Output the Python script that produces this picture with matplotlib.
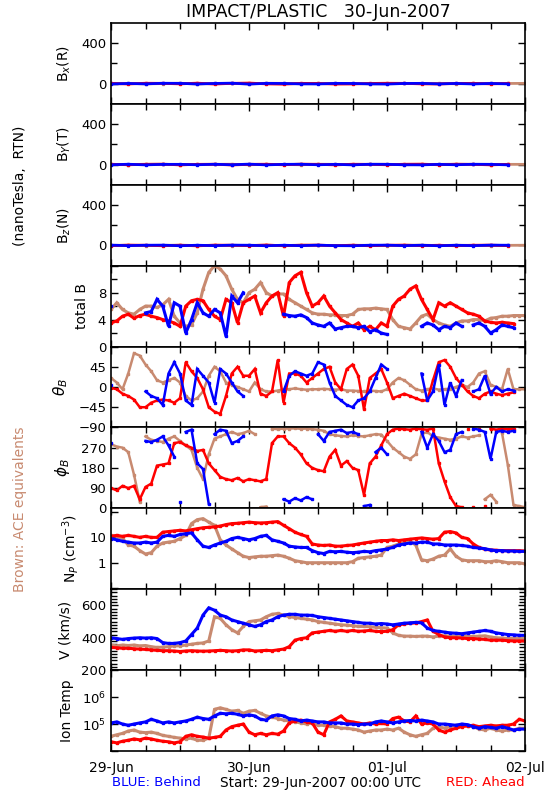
import numpy as np
import matplotlib
matplotlib.use("Agg")
import matplotlib.pyplot as plt
from matplotlib.ticker import FixedLocator, FixedFormatter, MultipleLocator, LogLocator, NullFormatter

nan = np.nan
plt.rcParams['font.family'] = ['DejaVu Sans']

# ---------------- data (hours since 29-Jun-2007 00:00 UTC) ----------------
hours = np.arange(0, 73)          # hourly samples
hours3 = np.arange(0, 73, 3)      # 3-hourly samples for B components

# B components (nT)
bx_red   = [2, -3, 4, 3, -2, 5, -4, 3, 6, -2, -5, 3, 2, -4, -3, 2, 4, 3, -2, -3, 2, 3, -2, 2, nan]
bx_blue  = [-3, 2, -2, 4, 3, -3, 2, 5, -4, 3, 2, -2, -3, 3, 2, -2, -4, 2, 3, -2, 2, -3, 2, -2, nan]
bx_brown = [3, 2, -2, 1, 4, -3, 3, 2, -2, 4, 3, -1, 2, 3, 2, -2, 1, 3, 2, 2, -1, 2, 3, 2, 3]
by_red   = [3, -2, 2, 4, -3, 2, 3, -4, 2, 3, -2, 4, 2, -3, 3, 2, -2, 3, 4, -2, 3, 2, -3, 2, nan]
by_blue  = [-2, 3, -3, 2, 2, -2, 3, -2, 4, -3, 2, 3, -2, 2, -3, 3, 2, -2, -3, 2, -2, 3, 2, -3, nan]
by_brown = [2, -1, 3, 2, -2, 1, 2, 3, -2, 2, 1, -2, 3, 2, -1, 2, 3, -2, 1, 2, 3, 2, -1, 2, 2]
bz_red   = [-2, 3, 2, -3, 2, -4, 3, 2, -2, 4, -3, 2, 3, -2, 2, -3, 2, 3, -2, 2, -3, 2, 3, -2, nan]
bz_blue  = [3, -2, 2, 3, -3, 2, -2, 3, 2, -3, 2, -2, 3, -2, -3, 2, 3, -2, 2, -3, 2, -2, 3, 2, nan]
bz_brown = [1, 2, -2, 1, 3, -1, 2, -2, 1, 2, -1, 3, 1, -2, 2, 1, -1, 2, 3, -1, 2, 1, -2, 1, 2]

# |B| (nT)
btot_red = [3.5, 3.8, 4.5, 4.8, 4.2, 4.6, 4.8, 4.5, 4.3, 4.0, 3.8, 3.5,
            3.0, 6.0, 6.8, 7.0, 6.8, 5.5, 4.5, 4.0, 7.0, 6.5, 3.5, 6.5,
            7.0, 7.5, 5.0, 6.5, 7.5, 8.0, 4.5, 9.5, 10.5, 11.0, 8.0, 6.0,
            6.5, 7.5, 6.0, 5.0, 4.0, 3.5, 3.0, 3.5, 2.5, 3.0, 2.5, 3.5,
            3.0, 6.0, 7.0, 7.5, 8.5, 9.0, 7.0, 5.5, 4.0, 6.5, 6.0, 6.5,
            6.0, 5.5, 5.0, 4.8, 4.5, 3.8, 3.6, 3.5, 3.6, 3.5, 3.4, nan,
            nan]
btot_blue = [6.0, nan, nan, nan, nan, nan, 5.0, 5.2, 7.0, 6.0, 3.0, 6.5,
             6.0, 2.0, 4.0, 6.5, 5.0, 4.5, 5.5, 5.0, 1.5, 7.5, 6.5, 8.0,
             nan, nan, nan, nan, nan, nan, 4.8, 4.6, 4.5, 4.7, 4.3, 3.5,
             3.2, 3.0, 3.5, 2.6, 2.8, 3.0, 3.0, 2.8, 3.0, 2.2, 2.5, 2.0,
             1.8, nan, nan, nan, nan, nan, 3.0, 3.5, 3.2, 2.5, 3.0, 2.8,
             3.5, 3.0, nan, 3.2, 3.5, 3.0, 2.0, 2.5, 3.2, 3.0, 2.8, nan,
             nan]
btot_brown = [5.5, 6.5, 5.5, 5.0, 4.8, 5.5, 6.0, 6.0, 5.8, 6.2, 7.0, 4.5,
              3.5, 3.0, 3.2, 5.0, 8.5, 11.0, 12.0, 11.5, 10.5, 8.5, 7.0, 6.5,
              8.0, 8.5, 9.5, 8.0, 7.5, 7.8, 7.8, 7.0, 6.5, 6.0, 5.5, 5.0,
              4.8, 4.8, 4.7, 4.7, 4.6, 4.6, 4.8, 5.5, 5.6, 5.6, 5.7, 5.6,
              5.5, 4.0, 3.0, 2.8, 2.6, 3.5, 4.5, 4.8, 4.0, 3.5, 3.2, 3.0,
              3.5, 3.8, 3.8, 4.0, 4.0, 3.8, 4.2, 4.3, 4.5, 4.5, 4.6, 4.6,
              4.6]

# theta_B (deg)
theta_red = [-2, -5, -15, -20, -28, -45, -45, -35, -30, -28, -30, -35,
             -25, 55, 35, 20, -5, -45, -55, -60, -20, 30, 45, 25,
             25, 40, -15, -20, -10, 60, -35, 30, 30, 25, 10, 20,
             30, 40, 45, 10, -5, 40, 50, 25, -50, 20, 30, 40,
             10, -25, -20, -15, -20, -25, -30, -30, 15, 55, 60, 45,
             20, 5, -10, -20, -25, -15, -10, -15, -18, -15, -12, nan,
             nan]
theta_blue = [5, nan, nan, nan, nan, nan, -10, -20, -25, -40, 30, 55,
              30, -30, -40, 40, 25, 10, -35, 40, 30, 10, -10, -20,
              nan, nan, nan, nan, nan, nan, -10, 25, 35, 30, 25, 30,
              55, 50, 10, -20, -30, -40, -45, -30, -25, -10, 20, 50,
              40, nan, nan, nan, nan, nan, 30, -30, -10, 50, -40, 10,
              -20, 15, nan, -10, -5, 25, -15, 0, -10, -5, -8, nan,
              nan]
theta_brown = [20, 10, -5, 30, 75, 70, 50, 35, 15, 10, 15, 20,
               10, -20, -30, -25, -10, 25, 45, 35, 10, 5, 0, -5,
               -10, 10, -5, -10, -10, -8, -5, -5, -3, -5, -6, -5,
               -5, -4, -5, -6, -5, -8, -8, -9, -10, -8, -9, -10,
               -5, 10, 20, 15, 5, -5, -8, -5, -3, -6, -5, -4,
               0, 5, 0, 10, 30, 35, 5, 0, -5, 40, -5, -5,
               -5]

# phi_B (deg)
phi_red = [90, 80, 100, 90, 100, 40, 95, 110, 190, 195, 200, 290,
           295, 280, 270, 255, 260, 200, 170, 140, 130, 125, 135, 120,
           130, 125, 120, 130, 290, 320, 320, 290, 270, 240, 200, 180,
           170, 165, 230, 260, 190, 210, 180, 170, 60, 200, 230, 280,
           330, 350, 355, 352, 350, 355, 352, 350, 355, 200, 120, 50,
           10, 5, 355, 8, 352, 10, 355, 350, 355, 352, 355, nan,
           nan]
phi_blue = [290, nan, nan, nan, nan, nan, 300, 295, 305, 320, 280, 230,
            30, 340, 350, 200, 175, 20, 330, 350, 345, 290, 300, 320,
            nan, nan, nan, nan, nan, nan, 40, 30, 45, 35, 50, 40,
            330, 300, 340, 345, 350, 335, 340, 330, 10, 15, 250, 270,
            240, nan, nan, nan, nan, nan, 340, 270, 330, 300, 250, 260,
            330, 340, nan, 355, 350, 340, 220, 340, 345, 340, 345, nan,
            nan]
phi_brown = [285, 275, 270, 250, 150, 30, 320, 305, 300, 295, 310, 320,
             300, 280, 260, 180, 130, 240, 310, 320, 330, 340, 330, 335,
             345, 330, 5, 8, 355, 352, 355, 355, 356, 354, 355, 352,
             350, 345, 330, 325, 322, 320, 325, 322, 320, 325, 330, 328,
             300, 270, 250, 230, 220, 240, 330, 340, 320, 315, 310, 305,
             310, 320, 315, 320, 325, 40, 60, 30, 335, 195, 15, 10,
             5]

# proton density (cm^-3)
np_red = [11, 12, 11, 12, 11, 10, 11, 10, 10, 16, 17, 18,
          19, 18, 20, 22, 24, 25, 26, 28, 32, 35, 36, 38,
          40, 38, 37, 38, 40, 42, 30, 22, 16, 13, 11, 5.5,
          5.0, 4.8, 5.0, 4.5, 4.5, 4.8, 5.0, 5.5, 6.0, 6.5, 7.0, 7.5,
          7.5, 8.0, 7.5, 8.0, 8.5, 9.0, 9.5, 9.0, 8.5, 9.0, 16, 17,
          15, 10, 9, 5.5, 4.0, 3.4, 3.2, 3.1, 3.0, 3.0, 3.0, 3.0,
          2.9]
np_blue = [9, 8, 7, 6.5, 6, 6, 6.5, 6, 6.5, 11, 12, 11,
           13, 14, 15, 8, 4.5, 4, 5, 6, 7, 9, 10, 9,
           8, 9, 11, 12, 8, 7, 6, 4.5, 4.2, 4.0, 4.0, 3.0,
           2.5, 2.3, 2.8, 2.7, 2.8, 2.6, 2.5, 2.6, 2.8, 2.7, 3.0, 3.2,
           3.5, 4.0, 5.0, 5.5, 6.0, 6.0, 6.5, 6.5, 5.5, 5.5, 5.0, 5.0,
           5.0, 4.8, 4.5, 4.0, 3.8, 3.6, 3.2, 3.0, 3.0, 2.9, 2.9, 2.8,
           2.8]
np_brown = [12, 11, 9, 5, 4.5, 3.0, 2.2, 2.5, 4.5, 6, 6.5, 7,
            9, 12, 35, 50, 55, 40, 30, 8, 5, 3.5, 2.5, 1.8,
            1.6, 1.7, 1.8, 1.8, 1.9, 2.0, 1.8, 1.5, 1.2, 1.1, 1.0, 1.0,
            1.0, 1.0, 1.0, 1.0, 1.0, 1.0, 1.1, 1.5, 1.6, 1.7, 1.8, 2.0,
            4.0, 4.5, 5.5, 6.0, 7.0, 5.0, 1.3, 1.2, 1.4, 1.8, 2.0, 3.5,
            1.8, 1.3, 1.2, 1.2, 1.2, 1.1, 1.1, 1.2, 1.1, 1.0, 1.0, 1.0,
            0.9]

# bulk speed (km/s)
v_red = [340, 338, 335, 335, 332, 330, 328, 325, 322, 320, 320, 318,
         315, 318, 320, 318, 317, 318, 320, 322, 320, 318, 320, 325,
         325, 318, 320, 322, 320, 325, 330, 345, 385, 395, 400, 430,
         435, 440, 445, 440, 445, 440, 445, 440, 442, 445, 440, 438,
         440, 450, 480, 485, 490, 492, 500, 510, 440, 420, 405, 400,
         400, 398, 395, 395, 392, 390, 385, 385, 385, 382, 380, 380,
         380]
v_blue = [400, 395, 390, 395, 398, 400, 398, 400, 395, 370, 365, 365,
          370, 380, 420, 460, 540, 585, 570, 540, 530, 510, 500, 490,
          480, 470, 480, 500, 510, 530, 540, 545, 545, 540, 540, 538,
          530, 525, 520, 515, 510, 505, 500, 495, 490, 490, 485, 488,
          485, 480, 485, 490, 492, 495, 492, 460, 445, 440, 435, 430,
          428, 425, 430, 435, 440, 445, 440, 430, 425, 420, 418, 415,
          415]
v_brown = [355, 350, 355, 352, 355, 350, 352, 345, 340, 342, 345, 350,
           350, 355, 360, 365, 368, 380, 530, 520, 480, 450, 430, 470,
           500, 505, 510, 530, 545, 550, 540, 530, 525, 520, 515, 510,
           500, 495, 490, 485, 480, 478, 475, 470, 470, 468, 465, 462,
           460, 430, 415, 410, 410, 408, 410, 410, 405, 410, 412, 410,
           412, 415, 410, 408, 410, 412, 405, 400, 398, 396, 395, 395,
           395]

# ion temperature (K)
t_red = [2.2e4, 2.0e4, 2.3e4, 2.5e4, 2.8e4, 2.6e4, 3.0e4, 2.8e4, 2.5e4, 2.3e4, 2.2e4, 2.0e4,
         2.2e4, 3.5e4, 4.0e4, 3.5e4, 3.3e4, 3.0e4, 3.2e4, 3.5e4, 6e4, 8e4, 9e4, 1.0e5,
         5e4, 4e4, 4.5e4, 4e4, 4.5e4, 4.2e4, 5.5e4, 1.1e5, 1.3e5, 1.4e5, 1.2e5, 1.1e5,
         5e4, 4e4, 1.2e5, 1.5e5, 2.0e5, 1.3e5, 1.2e5, 1.1e5, 1.0e5, 1.1e5, 1.0e5, 1.05e5,
         1.0e5, 1.6e5, 1.8e5, 1.3e5, 1.2e5, 2.0e5, 1.0e5, 1.1e5, 1.0e5, 6e4, 5e4, 6e4,
         7e4, 8e4, 8.5e4, 9e4, 8e4, 8.5e4, 9e4, 8.5e4, 9e4, 9e4, 1.0e5, 1.5e5,
         1.3e5]
t_blue = [1.1e5, 1.2e5, 1.0e5, 9e4, 1.0e5, 1.1e5, 1.2e5, 1.5e5, 1.3e5, 1.1e5, 1.2e5, 1.1e5,
          1.2e5, 1.3e5, 1.5e5, 1.8e5, 1.6e5, 1.5e5, 2.0e5, 2.5e5, 2.4e5, 2.5e5, 2.3e5, 2.0e5,
          2.2e5, 2.0e5, 1.5e5, 1.4e5, 2.0e5, 2.2e5, 2.0e5, 1.6e5, 1.5e5, 1.3e5, 1.4e5, 1.3e5,
          1.2e5, 1.2e5, 1.1e5, 1.1e5, 1.1e5, 1.0e5, 1.0e5, 9.5e4, 1.0e5, 1.0e5, 1.2e5, 1.3e5,
          1.2e5, 1.1e5, 1.2e5, 1.3e5, 1.35e5, 1.3e5, 1.4e5, 1.3e5, 1.2e5, 1.0e5, 1.0e5, 9.5e4,
          9e4, 1.0e5, 9.5e4, 8e4, 7e4, 8e4, 7.5e4, 7e4, 8e4, 7e4, 6e4, 6.5e4,
          6.5e4]
t_brown = [3.5e4, 4.0e4, 4.5e4, 5.5e4, 6.0e4, 5.0e4, 4.8e4, 5.0e4, 4.5e4, 3.8e4, 3.5e4, 3.2e4,
           3.0e4, 2.8e4, 3.0e4, 2.5e4, 2.5e4, 3.0e4, 3.5e5, 4.0e5, 3.5e5, 3.0e5, 3.2e5, 2.5e5,
           3.0e5, 3.2e5, 2.5e5, 2.0e5, 1.8e5, 1.6e5, 1.4e5, 1.3e5, 1.2e5, 1.1e5, 1.0e5, 1.1e5,
           9e4, 9e4, 8.5e4, 8e4, 7e4, 7e4, 6.5e4, 6e4, 5e4, 5.5e4, 6e4, 6e4,
           6.5e4, 6e4, 7e4, 5e4, 4e4, 3.5e4, 4e4, 4.5e4, 7e4, 8e4, 7e4, 8e4,
           9e4, 9.5e4, 8.5e4, 8e4, 6.5e4, 6e4, 7e4, 6e4, 5.5e4, 6e4, 6e4, 7e4,
           7e4]

day_labels = ['29-Jun', '30-Jun', '01-Jul', '02-Jul']

RED = '#ff0000'
BLUE = '#0000ff'
BROWN = '#c88a70'

# ---------------- figure ----------------
fig = plt.figure(figsize=(5.5, 8), dpi=100)
W, H = 550.0, 800.0
left_px, right_px, top_px, bot_px = 111, 525, 23, 751
ph = (bot_px - top_px) / 9.0
axes = []
for i in range(9):
    y0 = bot_px - (8 - i) * ph
    ax = fig.add_axes([left_px / W, 1 - y0 / H, (right_px - left_px) / W, ph / H])
    axes.append(ax)

FS = 9.5

def style(ax):
    ax.set_xlim(0, 72)
    ax.xaxis.set_major_locator(FixedLocator([0, 24, 48, 72]))
    ax.xaxis.set_minor_locator(FixedLocator([6, 12, 18, 30, 36, 42, 54, 60, 66]))
    ax.tick_params(which='both', direction='in', top=True, right=True,
                   labelsize=FS, width=1.0, color='black')
    ax.tick_params(which='major', length=5)
    ax.tick_params(which='minor', length=4)
    for s in ax.spines.values():
        s.set_linewidth(1.2)
    ax.set_xticklabels([])

def draw(ax, x, series, lw=2.2, wrap=False):
    for vals, col in series:
        xs = np.asarray(x, float)
        ys = np.asarray(vals, float)
        if wrap:
            # break the trace where the angle wraps around 0/360
            jump = np.abs(np.diff(ys)) > 180
            idx = np.where(jump)[0] + 1
            xs = np.insert(xs, idx, nan)
            ys = np.insert(ys, idx, nan)
        ax.plot(xs, ys, color=col, lw=lw, marker='s', ms=2.0, mec=col, mfc=col,
                solid_joinstyle='miter')

# B components
for ax, (r, b, br, lab) in zip(axes[:3], [(bx_red, bx_blue, bx_brown, r'B$_x$(R)'),
                                          (by_red, by_blue, by_brown, r'B$_Y$(T)'),
                                          (bz_red, bz_blue, bz_brown, r'B$_z$(N)')]):
    style(ax)
    draw(ax, hours3, [(br, BROWN), (r, RED), (b, BLUE)], lw=2.0)
    ax.set_ylim(-200, 600)
    ax.yaxis.set_major_locator(FixedLocator([0, 400]))
    ax.yaxis.set_minor_locator(FixedLocator([200]))
    ax.set_yticklabels(['0', '400'])
    ax.set_ylabel(lab, fontsize=FS + 0.5)

# total B
ax = axes[3]
style(ax)
draw(ax, hours, [(btot_brown, BROWN), (btot_red, RED), (btot_blue, BLUE)])
ax.set_ylim(0, 12)
ax.yaxis.set_major_locator(FixedLocator([0, 4, 8, 12]))
ax.yaxis.set_minor_locator(FixedLocator([2, 6, 10]))
ax.set_yticklabels(['0', '4', '8', ''])
ax.set_ylabel('total B', fontsize=FS + 0.5)

# theta
ax = axes[4]
style(ax)
draw(ax, hours, [(theta_brown, BROWN), (theta_red, RED), (theta_blue, BLUE)], lw=1.8)
ax.set_ylim(-90, 90)
ax.yaxis.set_major_locator(FixedLocator([-90, -45, 0, 45, 90]))
ax.set_yticklabels(['\u221290', '\u221245', '0', '45', ''])
ax.set_ylabel(r'$\theta_B$', fontsize=FS + 1.5)

# phi
ax = axes[5]
style(ax)
draw(ax, hours, [(phi_brown, BROWN), (phi_red, RED), (phi_blue, BLUE)], lw=1.8, wrap=True)
ax.set_ylim(0, 360)
ax.yaxis.set_major_locator(FixedLocator([0, 90, 180, 270, 360]))
ax.set_yticklabels(['0', '90', '180', '270', ''])
ax.set_ylabel(r'$\phi_B$', fontsize=FS + 1.5)

# density
ax = axes[6]
style(ax)
ax.set_yscale('log')
draw(ax, hours, [(np_brown, BROWN), (np_red, RED), (np_blue, BLUE)])
ax.set_ylim(0.09, 140)
ax.yaxis.set_major_locator(FixedLocator([0.1, 1, 10, 100]))
ax.yaxis.set_major_formatter(FixedFormatter(['', '1', '10', '']))
ax.yaxis.set_minor_locator(LogLocator(base=10, subs=np.arange(2, 10)))
ax.yaxis.set_minor_formatter(NullFormatter())
ax.set_ylabel(r'N$_P$ (cm$^{-3}$)', fontsize=FS + 0.5)

# speed
ax = axes[7]
style(ax)
draw(ax, hours, [(v_brown, BROWN), (v_red, RED), (v_blue, BLUE)])
ax.set_ylim(200, 700)
ax.yaxis.set_major_locator(FixedLocator([200, 400, 600]))
ax.yaxis.set_minor_locator(MultipleLocator(20))
ax.set_yticklabels(['200', '400', '600'])
ax.set_ylabel('V (km/s)', fontsize=FS + 0.5)

# temperature
ax = axes[8]
style(ax)
ax.set_yscale('log')
draw(ax, hours, [(t_brown, BROWN), (t_red, RED), (t_blue, BLUE)])
ax.set_ylim(1e4, 1e7)
ax.yaxis.set_major_locator(FixedLocator([1e4, 1e5, 1e6, 1e7]))
ax.yaxis.set_major_formatter(FixedFormatter(['', r'10$^5$', r'10$^6$', '']))
ax.yaxis.set_minor_locator(FixedLocator([]))
ax.set_ylabel('Ion Temp', fontsize=FS + 0.5)
ax.set_xticklabels(day_labels, fontsize=FS + 0.5)
ax.tick_params(axis='x', which='major', pad=7)

for ax in axes:
    ax.yaxis.labelpad = 6

fig.text(318 / W, 1 - 12 / H, 'IMPACT/PLASTIC   30-Jun-2007', ha='center', va='center', fontsize=12.5)
fig.text(20 / W, 1 - 186 / H, '(nanoTesla,  RTN)', rotation=90, ha='center', va='center', fontsize=FS + 0.5)
fig.text(20 / W, 1 - 509 / H, 'Brown: ACE equivalents', rotation=90, ha='center', va='center',
         fontsize=FS + 0.5, color=BROWN)
fig.text(112 / W, 1 - 783 / H, 'BLUE: Behind', ha='left', va='center', fontsize=FS, color=BLUE)
fig.text(320 / W, 1 - 783 / H, 'Start: 29-Jun-2007 00:00 UTC', ha='center', va='center', fontsize=FS + 0.3)
fig.text(525 / W, 1 - 783 / H, 'RED: Ahead', ha='right', va='center', fontsize=FS, color=RED)

fig.savefig('out.png', dpi=100)
